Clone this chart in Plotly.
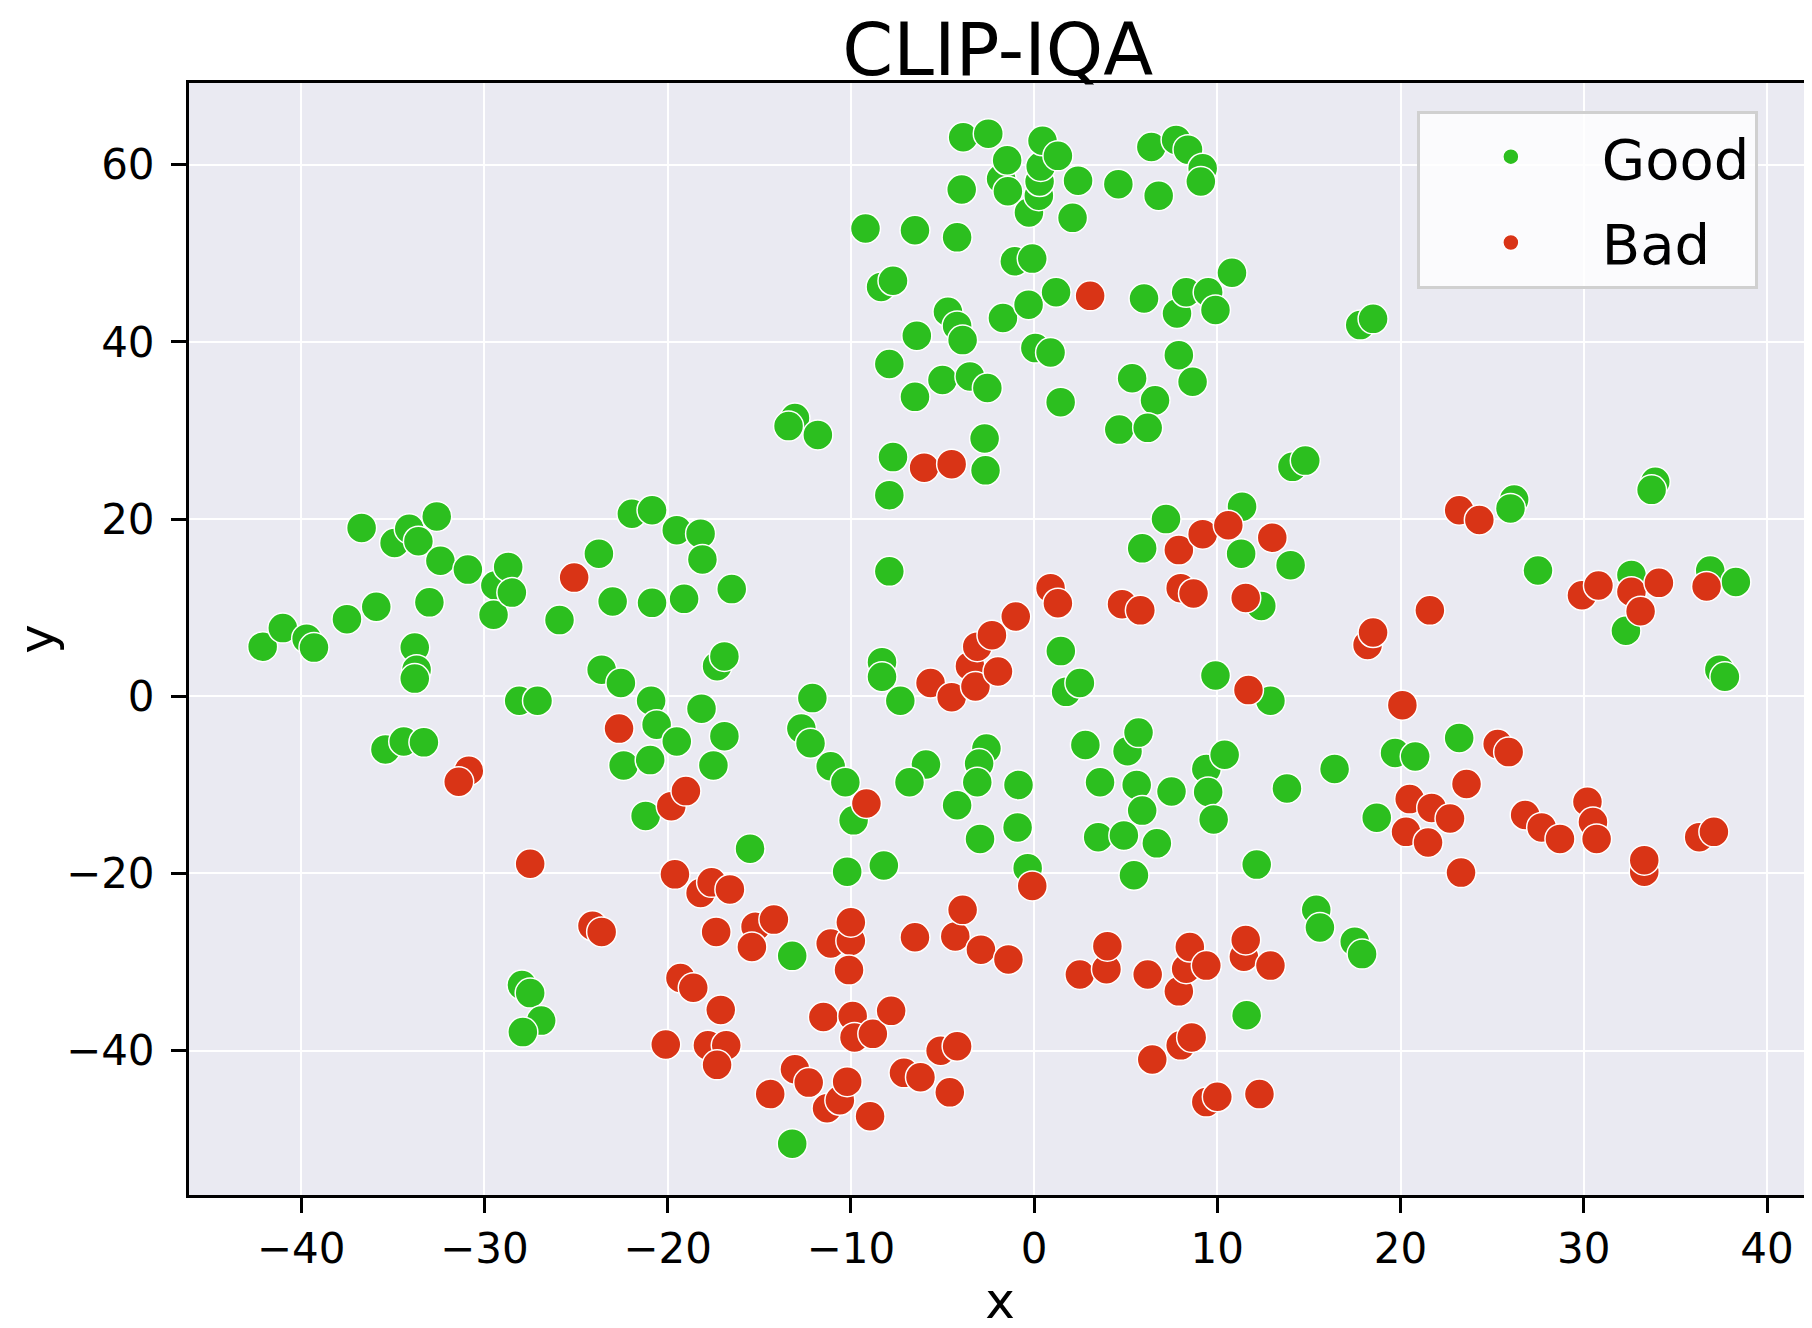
import pandas as pd
import plotly.express as px

# t-SNE style embedding
good_x = [-42.1, -41.0, -39.7, -39.3, -37.5, -36.7, -35.9, -34.9, -34.1, -33.6, -32.6, -32.4, -33.0,
          -30.9, -29.4, -29.5, -28.7, -28.5, -33.8, -33.7, -33.8, -28.1, -27.1, -35.4, -34.4, -33.3,
          -25.9, -23.75, -23.0, -23.6, -22.55, -22.4, -21.95, -20.85, -19.5, -20.85, -19.1, -18.2,
          -18.1, -16.5, -20.9, -20.6, -20.95, -19.5, -18.15, -17.3, -16.9, -16.9, -17.5, -21.2, -15.5,
          -27.95, -27.5, -26.9, -27.9,
          -13.05, -13.4, -11.8, -12.1, -12.7, -12.2, -11.1, -10.3, -9.85, -10.2, -13.2, -13.2, -8.2,
          -8.3, -8.3, -7.3, -7.9, -7.9, -7.7, -7.9, -8.35, -7.7, -9.2, -6.5, -6.4, -6.5, -5.0, -4.7,
          -4.2, -3.9, -4.2, -3.95, -3.87, -2.5, -3.5, -2.55, -2.7, -2.65, -1.8, -1.47, -1.43, -1.7,
          -1.05, -0.1, -0.28, -0.3, 0.07, 0.9, 0.26, 0.3, 0.36, 0.46, 1.3, 1.2, 1.45, 2.4, 2.1, 4.6,
          6.4, 7.75, 8.4, 9.2, 9.1, 6.8, 6.0, 7.8, 8.3, 9.5, 9.9, 10.8, 7.9, 8.65, 5.35, 6.6, 4.65,
          6.2, 17.8, 18.5, 14.1, 14.8,
          -5.9, -6.8, -4.2, -2.6, -3.0, -3.1, -2.95, -0.85, -0.9, -0.35, 1.46, 1.75, 2.5, 2.8, 3.6,
          3.5, 4.9, 5.1, 5.7, 5.6, 5.9, 5.45, 6.7, 7.5, 5.9, 7.2, 9.4, 9.5, 9.8, 10.4, 9.9, 11.35,
          11.3, 12.4, 12.9, 12.15, 11.6, 13.8, 14.0, 16.4, 15.4, 15.6, 17.5, 17.9, 18.7, 19.7, 20.8,
          23.2, 26.2, 26.0, 27.5, 33.9, 33.7, 32.3, 32.6, 36.9, 38.3, 37.4, 37.7]
good_y = [5.6, 7.7, 6.5, 5.5, 8.7, 19.0, 10.1, 17.3, 18.9, 17.5, 20.3, 15.3, 10.6,
          14.3, 12.5, 9.2, 14.6, 11.7, 5.5, 3.0, 2.0, -0.5, -0.5, -6.0, -5.1, -5.2,
          8.6, 16.1, 10.7, 3.0, 1.5, -7.8, 20.6, 21.0, 18.75, 10.55, 11.0, 18.35,
          15.45, 12.1, -0.5, -3.2, -7.2, -5.1, -1.4, 3.4, 4.5, -4.5, -7.8, -13.5, -17.2,
          -32.6, -33.5, -36.6, -37.9,
          31.4, 30.5, 29.5, -0.2, -3.65, -5.3, -7.9, -9.7, -14.0, -19.8, -29.3, -50.5, -19.1,
          3.85, 2.2, -0.5, 14.1, 22.7, 27.0, 37.5, 46.2, 46.9, 52.8, 52.6, 40.7, 33.8, 35.7, 43.4,
          41.8, 40.2, 51.8, 57.2, 63.1, 63.5, 36.1, 34.8, 29.1, 25.5, 58.4, 60.5, 57.0, 42.7,
          49.1, 49.4, 54.6, 44.2, 39.3, 38.8, 56.5, 58.1, 59.8, 62.7, 61.0, 45.6, 33.2, 58.2, 54.0, 57.8,
          62.0, 62.8, 61.7, 59.6, 58.1, 56.5, 44.9, 43.2, 45.6, 45.6, 43.6, 47.8, 38.5, 35.5, 35.9, 33.4, 30.1,
          30.3, 41.9, 42.6, 25.9, 26.6,
          -7.7, -9.7, -12.3, -5.9, -7.6, -9.7, -16.1, -10.0, -14.8, -19.4, 5.1, 0.5, 1.5, -5.5, -9.7,
          -15.9, -15.7, -6.2, -4.1, -10.0, -12.9, -20.2, -16.6, -10.75, 16.7, 20.0, -8.2, -10.8, -13.9, -6.6, 2.35, 21.4,
          16.1, 10.2, -0.5, -19.0, -36.0, -10.4, 14.8, -8.2, -24.1, -26.1, -27.7, -29.1, -13.7, -6.4, -6.8,
          -4.7, 22.2, 21.2, 14.2, 24.2, 23.3, 7.4, 13.7, 14.2, 12.9, 3.0, 2.2]

bad_x = [-25.1, -22.65, -30.85, -31.4, -27.5, -24.1, -23.6, -19.8, -19.0, -19.6, -18.2, -17.6, -16.6,
         -17.35, -15.2, -14.2, -15.4, -19.3, -18.6, -20.1, -17.8, -16.8, -17.3, -17.1, -14.4, -13.05,
         -12.3, -11.5, -11.3, -11.1, -10.6, -10.2, -10.0, -10.0, -10.1, -9.9, -9.8, -8.95, -8.8, -9.15,
         -7.8, -7.1, -6.5, -6.2, -6.0, -5.65, -5.1, -4.6, -4.5, -4.5, -4.3, -3.9, -4.2, -3.5, -3.1,
         -3.2, -2.9, -2.3, -1.97, -1.4, -1.0, -0.1, 0.9, 1.3, 3.06, 2.5, 3.95, 4.0, 4.8, 5.8, 6.2,
         6.45, 7.9, 8.0, 8.7, 9.2, 10.6, 7.9, 8.0, 8.3, 8.5, 8.6, 9.4, 9.4, 10.0, 11.55, 11.7, 11.45,
         11.55, 12.3, 12.9, 13.0, 18.2, 18.5, 20.1, 20.5, 20.3, 21.6, 21.7, 21.5, 22.7, 23.2, 24.3,
         23.6, 23.3, 25.3, 25.9, 26.8, 27.7, 28.7, 29.9, 30.8, 30.2, 30.5, 30.7, 32.6, 33.1, 34.1,
         33.3, 33.3, 36.3, 37.1, 36.7]
bad_y = [13.4, -3.65, -8.4, -9.65, -18.9, -25.9, -26.6, -12.4, -10.7, -20.1, -22.2, -21.0, -21.8,
         -26.6, -26.0, -25.2, -28.3, -31.8, -32.9, -39.3, -39.4, -39.4, -41.6, -35.4, -44.9, -42.1,
         -43.6, -36.2, -46.5, -27.9, -45.6, -43.5, -27.6, -25.5, -30.9, -36.1, -38.5, -47.4, -38.1, -12.1,
         -35.5, -42.5, -27.2, -43.0, 25.8, 1.5, -40.0, -44.7, 26.2, -0.1, -27.1, -24.1, -39.5, 3.4, 5.6,
         1.1, -28.6, 6.9, 2.8, -29.7, 9.0, -21.4, 12.2, 10.5, 45.2, -31.4, -30.8, -28.2, 10.4, 9.7, -31.4,
         -41.0, 16.5, 12.2, 11.6, 18.3, 19.3, -33.3, -39.4, -30.75, -28.3, -38.5, -30.4, -45.8, -45.2, 11.1, 0.7, -29.4,
         -27.5, -44.9, -30.4, 17.9, 5.8, 7.2, -1.0, -11.6, -15.3, 9.7, -12.6, -16.5, -13.8, 21.0, 19.9,
         -9.9, -19.9, -5.4, -6.3, -13.4, -14.8, -16.1, 11.4, 12.5, -11.9, -14.2, -16.1, 11.8, 9.6, 12.8,
         -19.8, -18.5, -15.9, -15.3, 12.4]

df = pd.DataFrame({
    "x": good_x + bad_x,
    "y": good_y + bad_y,
    "label": ["Good"] * len(good_x) + ["Bad"] * len(bad_x),
})

color_map = {"Good": "#2CBF1F", "Bad": "#D93416"}
font = "DejaVu Sans"

fig = px.scatter(df, x="x", y="y", color="label",
                 color_discrete_map=color_map,
                 category_orders={"label": ["Good", "Bad"]},
                 title="CLIP-IQA")
fig.update_traces(marker=dict(size=30, opacity=1, line=dict(color="white", width=1.5)))

axis_style = dict(
    automargin=False,
    showgrid=True, gridcolor="white", gridwidth=2, zeroline=False,
    showline=True, linecolor="black", linewidth=3, mirror=True,
    ticks="outside", ticklen=15, tickwidth=3, tickcolor="black",
    tickfont=dict(family=font, size=42, color="black"),
)

# the page adds a small body margin, so the figure is sized a bit smaller
fig.update_layout(
    width=1806, height=1322,
    margin=dict(l=181, r=3, t=75, b=135),
    paper_bgcolor="white", plot_bgcolor="#EAEAF2",
    font=dict(family=font, color="black"),
    title=dict(text="CLIP-IQA", x=0.548, xanchor="center", y=0.969, yanchor="middle",
               yref="container", font=dict(family=font, size=73, color="black")),
    legend=dict(title=dict(text=""), x=0.757, y=0.975, xanchor="left", yanchor="top",
                bgcolor="rgba(255,255,255,0.8)", bordercolor="#D0D0D0", borderwidth=3,
                font=dict(family=font, size=56, color="black"), itemwidth=172,
                tracegroupgap=10),
)
fig.update_xaxes(range=[-46.12, 42.40], tick0=0, dtick=10,
                 title=dict(text="x", font=dict(family=font, size=50)), **axis_style)
fig.update_yaxes(range=[-56.29, 69.22], tick0=0, dtick=20, ticklabelstandoff=8,
                 title=dict(text="y", font=dict(family=font, size=50)), **axis_style)

fig.write_html("out.html")
